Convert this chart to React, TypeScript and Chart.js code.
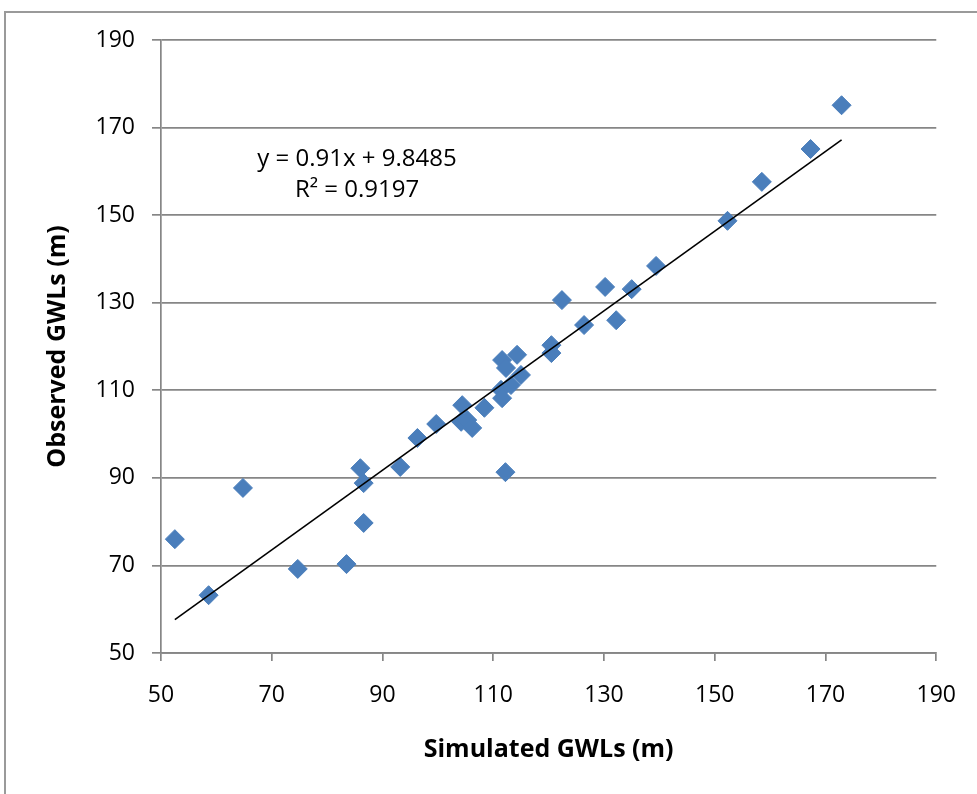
import React, { useEffect, useRef } from "react";
import { Chart, registerables } from "chart.js";

Chart.register(...registerables);

const simulated = [52.5, 58.6, 64.8, 74.7, 83.5, 86.0, 86.6, 86.6, 93.2, 96.3, 99.7, 104.2, 104.4, 105.3, 106.2, 108.4, 111.6, 114.3, 112.3, 115.0, 111.4, 111.6, 113.2, 112.2, 120.5, 120.5, 122.4, 126.4, 130.2, 132.2, 135.0, 139.4, 152.3, 158.5, 167.3, 172.9];
const observed = [76.0, 63.2, 87.7, 69.2, 70.3, 92.2, 88.8, 79.7, 92.5, 99.1, 102.3, 102.8, 106.6, 103.2, 101.4, 106.0, 116.9, 118.1, 115.1, 113.5, 110.1, 108.2, 111.2, 91.3, 120.3, 118.5, 130.6, 124.9, 133.6, 126.0, 133.1, 138.4, 148.7, 157.6, 165.1, 175.1];

const slope = 0.91;
const intercept = 9.8485;
const equationLines = ["y = 0.91x + 9.8485", "R² = 0.9197"];
const equationAnchor = { x: 85.4, y1: 162.9, y2: 155.6 };

const axisMin = 50;
const axisMax = 190;
const axisStep = 20;
const xTitle = "Simulated GWLs (m)";
const yTitle = "Observed GWLs (m)";

const GRAY = "#868686";
const BLUE = "#4A7EBB";

export default function App() {
  const ref = useRef<HTMLCanvasElement | null>(null);

  useEffect(() => {
    const canvas = ref.current;
    if (!canvas) return;
    const points = simulated.map((x, i) => ({ x, y: observed[i] }));
    const xMin = Math.min(...simulated);
    const xMax = Math.max(...simulated);
    const trend = [
      { x: xMin, y: slope * xMin + intercept },
      { x: xMax, y: slope * xMax + intercept },
    ];

    const eqPlugin = {
      id: "eq",
      afterDatasetsDraw(chart: any) {
        const { ctx, scales } = chart;
        const px = scales.x.getPixelForValue(equationAnchor.x);
        ctx.save();
        ctx.fillStyle = "#000";
        ctx.font = "24px 'Open Sans'";
        ctx.textAlign = "center";
        ctx.textBaseline = "middle";
        ctx.fillText(equationLines[0], px, scales.y.getPixelForValue(equationAnchor.y1));
        ctx.fillText(equationLines[1], px, scales.y.getPixelForValue(equationAnchor.y2));
        ctx.restore();
      },
    };

    const chart = new Chart(canvas, {
      type: "scatter",
      data: {
        datasets: [
          {
            data: points,
            pointStyle: "rectRot",
            pointRadius: 9.5,
            pointHoverRadius: 9.5,
            backgroundColor: BLUE,
            borderColor: BLUE,
            borderWidth: 1,
            order: 2,
          },
          {
            type: "line",
            data: trend,
            borderColor: "#000",
            borderWidth: 1.6,
            pointRadius: 0,
            fill: false,
            order: 1,
          } as any,
        ],
      },
      options: {
        responsive: false,
        animation: false,
        devicePixelRatio: 1,
        layout: { padding: { top: 40, right: 39, left: 0, bottom: 0 } },
        plugins: { legend: { display: false }, tooltip: { enabled: false } },
        scales: {
          x: {
            type: "linear",
            min: axisMin,
            max: axisMax,
            afterFit(scale: any) {
              scale.height = 141;
            },
            ticks: {
              stepSize: axisStep,
              padding: 21,
              color: "#000",
              font: { family: "'Open Sans'", size: 23 },
            },
            grid: {
              drawOnChartArea: false,
              drawTicks: true,
              tickLength: 8,
              color: GRAY,
              lineWidth: 1.7,
            },
            border: { display: true, color: GRAY, width: 1.7 },
            title: {
              display: true,
              text: xTitle,
              color: "#000",
              font: { family: "'Open Sans'", size: 25, weight: "bold" },
              padding: { top: 0, bottom: 29 },
            },
          },
          y: {
            type: "linear",
            min: axisMin,
            max: axisMax,
            afterFit(scale: any) {
              scale.width = 161;
            },
            ticks: {
              stepSize: axisStep,
              padding: 17,
              color: "#000",
              font: { family: "'Open Sans'", size: 23 },
            },
            grid: {
              drawOnChartArea: true,
              drawTicks: true,
              tickLength: 9,
              color: GRAY,
              lineWidth: 1.7,
            },
            border: { display: true, color: GRAY, width: 1.7 },
            title: {
              display: true,
              text: yTitle,
              color: "#000",
              font: { family: "'Open Sans'", size: 25, weight: "bold" },
              padding: { top: 43, bottom: 0 },
            },
          },
        },
      },
      plugins: [eqPlugin],
    });
    return () => chart.destroy();
  }, []);

  return (
    <div style={{ position: "fixed", left: 0, top: 0, width: 977, height: 794, background: "#fff" }}>
      <div
        style={{
          position: "absolute",
          left: 4,
          top: 11,
          width: 1000,
          height: 800,
          borderTop: "2px solid #9a9a9a",
          borderLeft: "2px solid #9a9a9a",
          boxSizing: "border-box",
        }}
      />
      <canvas ref={ref} width={977} height={794} style={{ position: "absolute", left: 0, top: 0, width: 977, height: 794 }} />
    </div>
  );
}
